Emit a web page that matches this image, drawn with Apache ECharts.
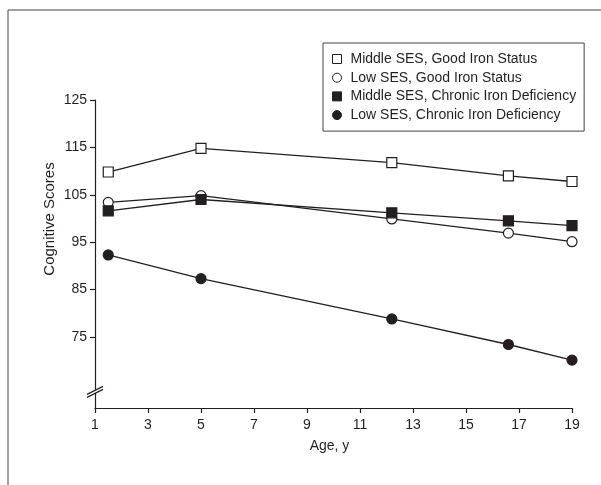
<!DOCTYPE html>
<html>
<head>
<meta charset="utf-8">
<script src="https://cdn.jsdelivr.net/npm/echarts@6/dist/echarts.min.js"></script>
<style>
html,body{margin:0;padding:0;background:#fff;}
#c{width:601px;height:485px;}
</style>
</head>
<body>
<div id="c"></div>
<script>
var ages = [1.5, 5, 12.2, 16.6, 19];
var seriesNames = [
  'Middle SES, Good Iron Status',
  'Low SES, Good Iron Status',
  'Middle SES, Chronic Iron Deficiency',
  'Low SES, Chronic Iron Deficiency'
];
var midGood = [109.8, 114.8, 111.8, 109.0, 107.8];
var lowGood = [103.4, 104.8, 99.9, 96.9, 95.1];
var midDef = [101.6, 104.0, 101.2, 99.5, 98.5];
var lowDef = [92.3, 87.3, 78.8, 73.4, 70.1];
var xTicks = [1, 3, 5, 7, 9, 11, 13, 15, 17, 19];
var yTicks = [75, 85, 95, 105, 115, 125];

var INK = '#231f20';
var FONT = "'Liberation Sans', Arial, sans-serif";

function pairs(vals) {
  return ages.map(function (a, i) { return [a, vals[i]]; });
}
function mk(name, vals, symbol, filled) {
  return {
    name: name,
    type: 'line',
    data: pairs(vals),
    symbol: symbol,
    symbolSize: 10,
    showAllSymbol: true,
    lineStyle: { color: INK, width: 1.3 },
    itemStyle: { color: filled ? INK : '#fff', borderColor: INK, borderWidth: 1.2 },
    emphasis: { disabled: true },
    animation: false
  };
}

var chart = echarts.init(document.getElementById('c'), null, { renderer: 'canvas' });
chart.setOption({
  animation: false,
  textStyle: { fontFamily: FONT, color: INK },
  grid: { left: 95, right: 29, top: 100, bottom: 77, containLabel: false },
  legend: {
    orient: 'vertical',
    left: 323,
    top: 43,
    padding: [8, 8, 8, 9],
    borderColor: '#444',
    borderWidth: 1,
    itemWidth: 9,
    itemHeight: 9,
    itemGap: 2.7,
    selectedMode: false,
    itemStyle: { borderWidth: 1 },
    textStyle: { fontFamily: FONT, fontSize: 14, color: INK, lineHeight: 16, padding: [0, 0, 0, 4] },
    data: [
      { name: seriesNames[0], icon: 'rect' },
      { name: seriesNames[1], icon: 'circle' },
      { name: seriesNames[2], icon: 'rect' },
      { name: seriesNames[3], icon: 'circle' }
    ]
  },
  xAxis: {
    type: 'value',
    min: 1,
    max: 19,
    interval: 2,
    name: 'Age, y',
    nameLocation: 'middle',
    nameGap: 31,
    nameMoveOverlap: false,
    nameTextStyle: { fontFamily: FONT, fontSize: 14, color: INK, padding: [0, 8, 0, 0] },
    axisLine: { lineStyle: { color: INK, width: 1.2 } },
    axisTick: { length: 5, lineStyle: { color: INK, width: 1.2 } },
    axisLabel: { fontFamily: FONT, fontSize: 14, color: INK, margin: 10 },
    splitLine: { show: false }
  },
  yAxis: {
    type: 'value',
    min: 60,
    max: 125,
    interval: 5,
    name: 'Cognitive Scores',
    nameLocation: 'middle',
    nameGap: 38,
    nameMoveOverlap: false,
    nameTextStyle: { fontFamily: FONT, fontSize: 15, color: INK, padding: [0, 0, 0, 70] },
    axisLine: { show: true, lineStyle: { color: INK, width: 1.2 } },
    axisTick: { show: true, length: 5, customValues: yTicks, lineStyle: { color: INK, width: 1.2 } },
    axisLabel: { fontFamily: FONT, fontSize: 14, color: INK, margin: 8, customValues: yTicks },
    splitLine: { show: false }
  },
  series: [
    mk(seriesNames[0], midGood, 'rect', false),
    mk(seriesNames[1], lowGood, 'circle', false),
    mk(seriesNames[2], midDef, 'rect', true),
    mk(seriesNames[3], lowDef, 'circle', true)
  ]
});

// outer frame and axis break marks
var p = chart.convertToPixel({ gridIndex: 0 }, [1, 63.3]);
var bx = p[0], by = p[1];
chart.setOption({
  graphic: [
    {
      type: 'rect',
      shape: { x: 8, y: 10, width: 700, height: 600 },
      style: { fill: null, stroke: '#444', lineWidth: 1 },
      silent: true
    },
    {
      type: 'polygon',
      shape: { points: [[bx - 8, by + 2], [bx + 8, by - 6], [bx + 8, by - 3], [bx - 8, by + 5]] },
      style: { fill: '#fff', stroke: null },
      z: 100
    },
    {
      type: 'line',
      shape: { x1: bx - 8, y1: by + 2, x2: bx + 8, y2: by - 6 },
      style: { stroke: INK, lineWidth: 1.2 },
      z: 101
    },
    {
      type: 'line',
      shape: { x1: bx - 8, y1: by + 5, x2: bx + 8, y2: by - 3 },
      style: { stroke: INK, lineWidth: 1.2 },
      z: 101
    }
  ]
});
</script>
</body>
</html>
